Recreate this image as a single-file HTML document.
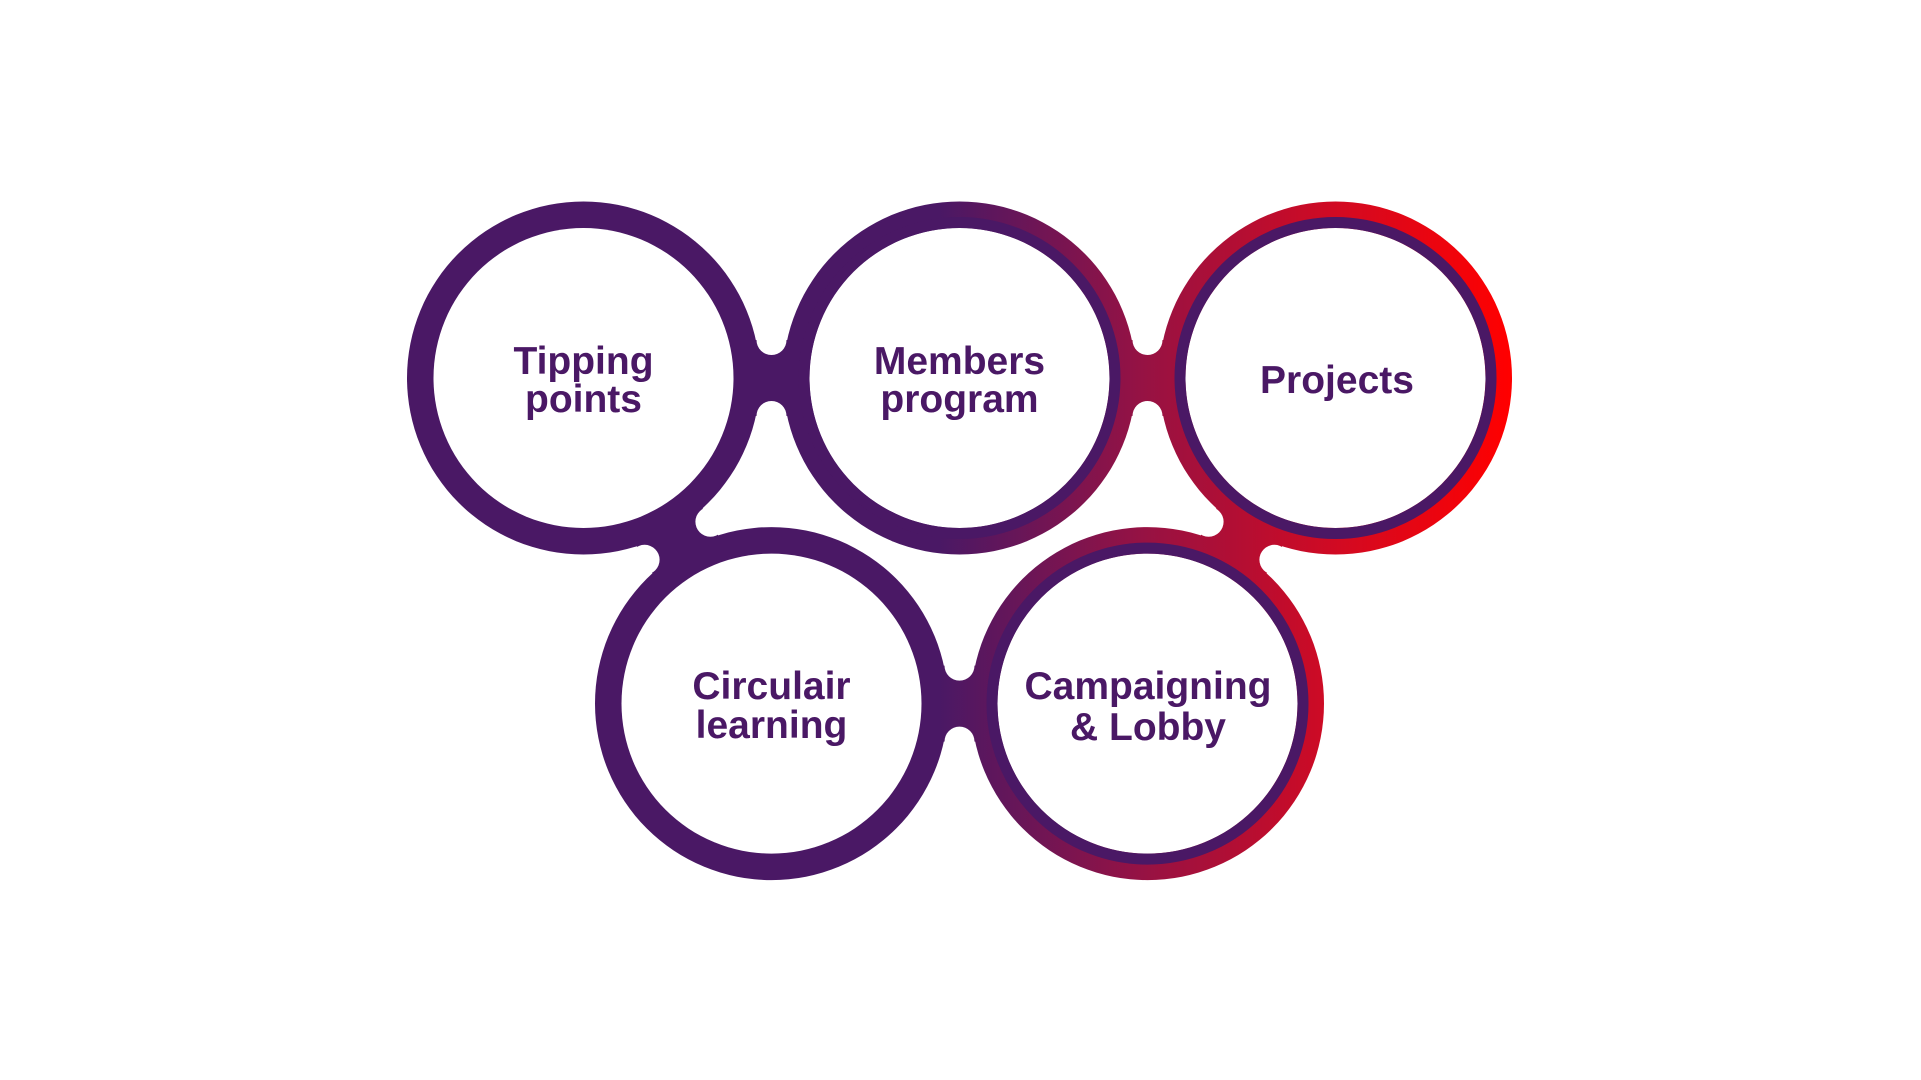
<!DOCTYPE html>
<html><head><meta charset="utf-8"><style>html,body{margin:0;padding:0;background:#fff}svg{display:block}</style></head>
<body>
<svg width="1921" height="1080" viewBox="0 0 1921 1080" xmlns="http://www.w3.org/2000/svg">
<defs>
<linearGradient id="g" gradientUnits="userSpaceOnUse" x1="940" y1="0" x2="1510" y2="0">
<stop offset="0" stop-color="#4a1865"/>
<stop offset="0.35" stop-color="#951244"/>
<stop offset="0.7" stop-color="#d20a22"/>
<stop offset="1" stop-color="#ff0000"/>
</linearGradient>
</defs>
<g fill="url(#g)">
<circle cx="583.5" cy="378" r="176.5"/>
<circle cx="959.5" cy="378" r="176.5"/>
<circle cx="1335.5" cy="378" r="176.5"/>
<circle cx="771.5" cy="703.6" r="176.5"/>
<circle cx="1147.5" cy="703.6" r="176.5"/>
<rect x="671.5" y="340" width="200" height="76"/>
<rect x="1047.5" y="340" width="200" height="76"/>
<rect x="859.5" y="665.6" width="200" height="76"/>
<polygon points="694.6,646.4 760.4,608.4 660.4,435.2 594.6,473.2"/>
<polygon points="1324.4,473.2 1258.6,435.2 1158.6,608.4 1224.4,646.4"/>
</g>
<g fill="#fff">
<circle cx="583.5" cy="378" r="150"/>
<circle cx="959.5" cy="378" r="150"/>
<circle cx="1335.5" cy="378" r="150"/>
<circle cx="771.5" cy="703.6" r="150"/>
<circle cx="1147.5" cy="703.6" r="150"/>
</g>
<g fill="none" stroke="#4a1865" stroke-width="11">
<circle cx="959.5" cy="378" r="155.5"/>
<circle cx="1335.5" cy="378" r="155.5"/>
<circle cx="1147.5" cy="703.6" r="155.5"/>
</g>
<g fill="#fff">
<circle cx="771.5" cy="340" r="15"/>
<circle cx="771.5" cy="416" r="15"/>
<circle cx="1147.5" cy="340" r="15"/>
<circle cx="1147.5" cy="416" r="15"/>
<circle cx="959.5" cy="665.6" r="15"/>
<circle cx="959.5" cy="741.6" r="15"/>
<circle cx="710.4" cy="521.8" r="15"/>
<circle cx="644.6" cy="559.8" r="15"/>
<circle cx="1208.6" cy="521.8" r="15"/>
<circle cx="1274.4" cy="559.8" r="15"/>
</g>
<g fill="#4a1865" font-family="'Liberation Sans', sans-serif" font-weight="bold" font-size="39" text-anchor="middle">
<text x="583.5" y="374">Tipping</text>
<text x="583.5" y="412">points</text>
<text x="959.5" y="374">Members</text>
<text x="959.5" y="412">program</text>
<text x="1337" y="393">Projects</text>
<text x="771.5" y="699">Circulair</text>
<text x="771.5" y="738">learning</text>
<text x="1148" y="699">Campaigning</text>
<text x="1148" y="740">&amp; Lobby</text>
</g>
</svg>
</body></html>
